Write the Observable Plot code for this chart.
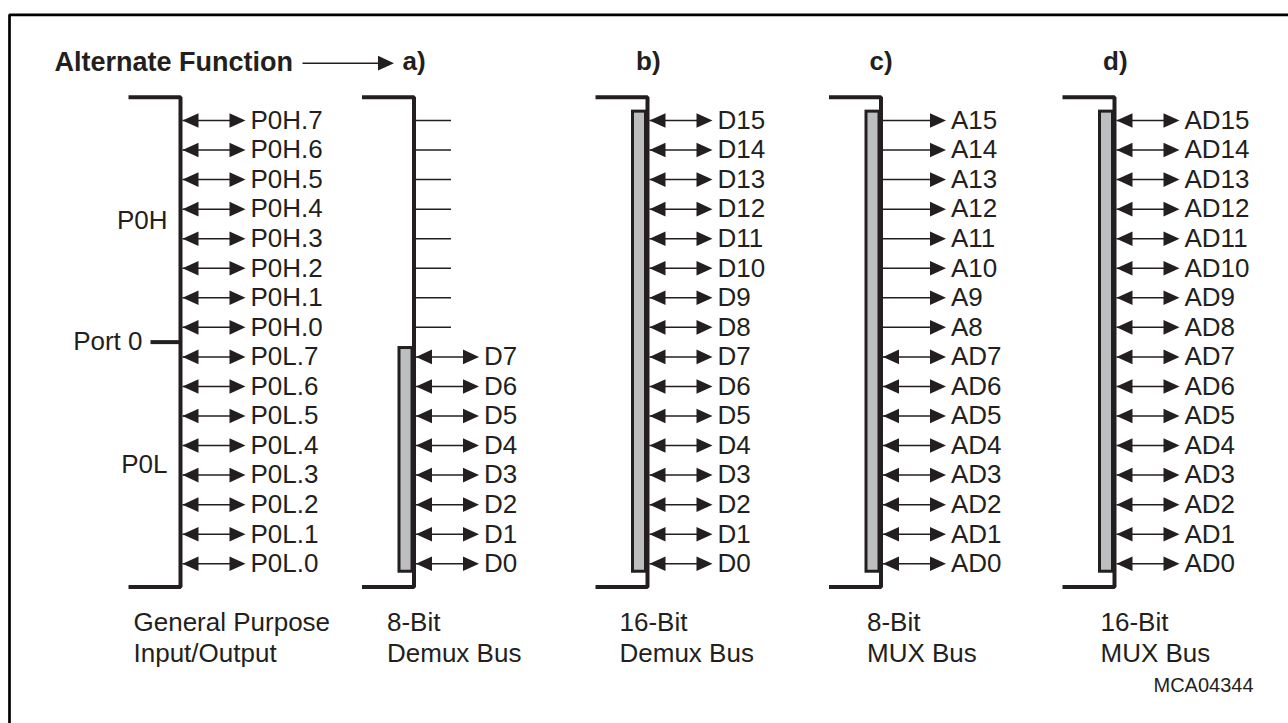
<!DOCTYPE html>
<html><head><meta charset="utf-8">
<script src="https://cdn.jsdelivr.net/npm/d3@7"></script>
<script src="https://cdn.jsdelivr.net/npm/@observablehq/plot@0.6"></script>
<style>
html,body{margin:0;padding:0;background:#fff;overflow:hidden;}
#chart svg{display:block;}
</style>
</head><body><div id="chart"></div>
<script>
// ---------- data ----------
const portPins   = ["P0H.7","P0H.6","P0H.5","P0H.4","P0H.3","P0H.2","P0H.1","P0H.0",
                    "P0L.7","P0L.6","P0L.5","P0L.4","P0L.3","P0L.2","P0L.1","P0L.0"];
const demux8Pins = ["D7","D6","D5","D4","D3","D2","D1","D0"];
const demux16Pins= ["D15","D14","D13","D12","D11","D10","D9","D8",
                    "D7","D6","D5","D4","D3","D2","D1","D0"];
const mux8Addr   = ["A15","A14","A13","A12","A11","A10","A9","A8"];
const mux8Data   = ["AD7","AD6","AD5","AD4","AD3","AD2","AD1","AD0"];
const mux16Pins  = ["AD15","AD14","AD13","AD12","AD11","AD10","AD9","AD8",
                    "AD7","AD6","AD5","AD4","AD3","AD2","AD1","AD0"];
const columnTags = ["", "a)", "b)", "c)", "d)"];
const busLine1   = ["General Purpose","8-Bit","16-Bit","8-Bit","16-Bit"];
const busLine2   = ["Input/Output","Demux Bus","Demux Bus","MUX Bus","MUX Bus"];
const groupLabels= ["P0H","P0L"];
const portName   = "Port 0";
const headerText = "Alternate Function";
const figureId   = "MCA04344";

// ---------- layout (pixel geometry of the drawing) ----------
const W = 1288, H = 723;
const ROW0 = 120, ROWH = 29.55;          // row 0 centre and row pitch
const X0 = 180, DX = 233.5;              // bracket x of column 0 and column pitch
const bx = c => X0 + DX * c;
const labelOffset = [-47, -27, -28, -14, -14];
const INK = "#231f20", GREY = "#bdbec0";
const FONT = "'Liberation Sans', Arial, Helvetica, sans-serif";

// ---------- derived tables ----------
const pins = [];
portPins.forEach((label,i)=>pins.push({col:0,row:i,label,kind:"bi"}));
for (let i=0;i<8;i++) pins.push({col:1,row:i,label:"",kind:"stub"});
demux8Pins.forEach((label,i)=>pins.push({col:1,row:8+i,label,kind:"bi"}));
demux16Pins.forEach((label,i)=>pins.push({col:2,row:i,label,kind:"bi"}));
mux8Addr.forEach((label,i)=>pins.push({col:3,row:i,label,kind:"out"}));
mux8Data.forEach((label,i)=>pins.push({col:3,row:8+i,label,kind:"bi"}));
mux16Pins.forEach((label,i)=>pins.push({col:4,row:i,label,kind:"bi"}));

const cols = columnTags.map((tag,c)=>({col:c,tag,l1:busLine1[c],l2:busLine2[c]}));
const bracketPts = cols.flatMap(({col})=>[
  {col,x:bx(col)-52,y:-0.79},{col,x:bx(col),y:-0.79},
  {col,x:bx(col),y:15.79},{col,x:bx(col)-52,y:15.79}]);
const bars = cols.filter(d=>d.col>0).map(({col})=>{
  const rows = pins.filter(p=>p.col===col && p.kind!=="stub").map(p=>p.row);
  return {col, from:d3.min(rows), to:d3.max(rows)};
});
const wires = pins.filter(p=>p.kind!=="stub");
const stubs = pins.filter(p=>p.kind==="stub");

const headR = {draw(ctx){ctx.moveTo(8,0);ctx.lineTo(-8,-7.3);ctx.lineTo(-8,7.3);ctx.closePath();}};
const headL = {draw(ctx){ctx.moveTo(-8,0);ctx.lineTo(8,-7.3);ctx.lineTo(8,7.3);ctx.closePath();}};

const txt = {fill:INK, fontFamily:FONT, fontSize:26, textAnchor:"start"};
const rowOf = px => (px-ROW0)/ROWH;

const chart = Plot.plot({
  width: W, height: H,
  margin: 0,
  x: {domain:[0,W], range:[0,W], axis:null},
  y: {domain:[rowOf(0), rowOf(H)], range:[0,H], axis:null},
  style: {background:"#fff", overflow:"visible"},
  marks: [
    // frame (top and left edge)
    Plot.line([{x:9,y:rowOf(H+5)},{x:9,y:rowOf(14.3)},{x:W+5,y:rowOf(14.3)}],
      {x:"x",y:"y",stroke:"#000",strokeWidth:2.7,strokeLinejoin:"miter"}),
    // grey bus bars
    Plot.rect(bars, {x1:d=>bx(d.col)-14.5, x2:d=>bx(d.col)-1.5,
      y1:d=>d.from-0.3, y2:d=>d.to+0.27, fill:GREY, stroke:INK, strokeWidth:3}),
    // brackets
    Plot.line(bracketPts, {x:"x",y:"y",z:"col",stroke:INK,strokeWidth:4,
      strokeLinejoin:"miter",strokeLinecap:"butt"}),
    // Port 0 stub
    Plot.link([portName], {x1:X0-30, x2:X0, y1:7.5, y2:7.5, stroke:INK, strokeWidth:4}),
    // unused lines
    Plot.link(stubs, {x1:d=>bx(d.col)+2, x2:d=>bx(d.col)+37, y1:"row", y2:"row",
      stroke:INK, strokeWidth:1.5}),
    // arrow shafts
    Plot.link(wires, {x1:d=>bx(d.col)+2, x2:d=>bx(d.col)+57, y1:"row", y2:"row",
      stroke:INK, strokeWidth:1.5}),
    // arrow heads
    Plot.dot(wires, {x:d=>bx(d.col)+57, y:"row", symbol:headR, fill:INK, stroke:null}),
    Plot.dot(wires.filter(d=>d.kind==="bi"), {x:d=>bx(d.col)+10, y:"row", symbol:headL, fill:INK, stroke:null}),
    // pin labels
    Plot.text(wires, {...txt, x:d=>bx(d.col)+70, y:"row", text:"label"}),
    // group labels
    Plot.text(groupLabels, {...txt, textAnchor:"end", x:X0-13, y:(d,i)=>i===0?3.38:11.64, text:d=>d}),
    Plot.text([portName], {...txt, textAnchor:"end", x:X0-38, y:7.5, text:d=>d}),
    // header
    Plot.text([headerText], {...txt, fontSize:27, fontWeight:"bold", x:54, y:-1.98, text:d=>d}),
    Plot.link([headerText], {x1:302, x2:386, y1:-1.94, y2:-1.94, stroke:INK, strokeWidth:1.5}),
    Plot.dot([headerText], {x:385.5, y:-1.94, symbol:headR, fill:INK, stroke:null}),
    Plot.text(cols.filter(d=>d.tag), {...txt, fontSize:26, fontWeight:"bold",
      x:d=>bx(d.col)-11.5, y:-1.98, text:"tag"}),
    // bottom labels
    Plot.text(cols, {...txt, x:d=>bx(d.col)+labelOffset[d.col], y:17, text:"l1"}),
    Plot.text(cols, {...txt, x:d=>bx(d.col)+labelOffset[d.col], y:18.05, text:"l2"}),
    Plot.text([figureId], {...txt, fontSize:20, x:1153, y:19.13, text:d=>d})
  ]
});
document.getElementById("chart").appendChild(chart);
</script>
</body></html>
